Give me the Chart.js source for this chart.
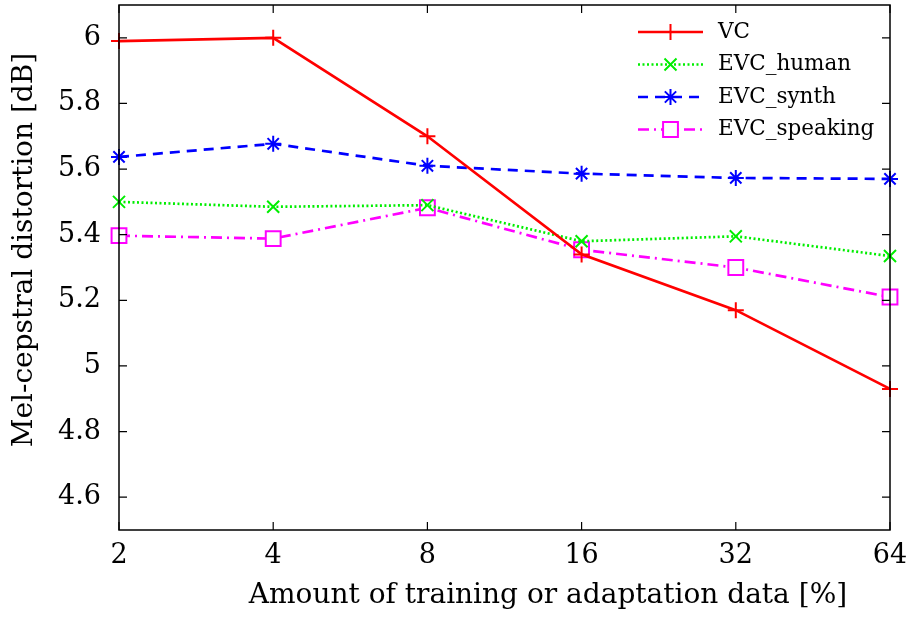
<!DOCTYPE html>
<html>
<head>
<meta charset="utf-8">
<script src="https://cdn.jsdelivr.net/npm/chart.js@4/dist/chart.umd.min.js"></script>
<style>
  html, body { margin: 0; padding: 0; background: #fff; }
  #wrap { width: 910px; height: 622px; }
</style>
</head>
<body>
<div id="wrap"><canvas id="chart" width="910" height="622"></canvas></div>
<script>
const categories = ["2", "4", "8", "16", "32", "64"];
const vc = [5.99, 6.0, 5.70, 5.34, 5.17, 4.93];
const evcHuman = [5.50, 5.485, 5.49, 5.38, 5.395, 5.335];
const evcSynth = [5.637, 5.677, 5.61, 5.586, 5.573, 5.57];
const evcSpeaking = [5.397, 5.388, 5.482, 5.354, 5.30, 5.21];
const yTicks = [4.6, 4.8, 5.0, 5.2, 5.4, 5.6, 5.8, 6.0];

const FONT = "'DejaVu Serif', serif";
const xTitle = "Amount of training or adaptation data [%]";
const yTitle = "Mel-cepstral distortion [dB]";

// frame, inward ticks on all sides, axis titles and the legend inside the plot
const framePlugin = {
  id: "frame",
  afterDraw(chart) {
    const { ctx, chartArea: a, scales } = chart;
    ctx.save();
    ctx.strokeStyle = "#000";
    ctx.lineWidth = 1.5;
    ctx.strokeRect(a.left, a.top, a.right - a.left, a.bottom - a.top);
    ctx.lineWidth = 1.2;
    const len = 8;
    scales.x.ticks.forEach((t, i) => {
      const px = scales.x.getPixelForTick(i);
      ctx.beginPath();
      ctx.moveTo(px, a.bottom); ctx.lineTo(px, a.bottom - len);
      ctx.moveTo(px, a.top); ctx.lineTo(px, a.top + len);
      ctx.stroke();
    });
    scales.y.ticks.forEach((t) => {
      const py = scales.y.getPixelForValue(t.value);
      ctx.beginPath();
      ctx.moveTo(a.left, py); ctx.lineTo(a.left + len, py);
      ctx.moveTo(a.right, py); ctx.lineTo(a.right - len, py);
      ctx.stroke();
    });

    // axis titles
    ctx.fillStyle = "#000";
    ctx.font = "28px " + FONT;
    ctx.textAlign = "center";
    ctx.textBaseline = "alphabetic";
    ctx.fillText(xTitle, 548, 603);
    ctx.save();
    ctx.translate(32, 250);
    ctx.rotate(-Math.PI / 2);
    ctx.fillText(yTitle, 0, 0);
    ctx.restore();

    // legend
    const x0 = 638, x1 = 703, tx = 718;
    let y = 32;
    ctx.font = "21.5px " + FONT;
    ctx.textBaseline = "middle";
    ctx.textAlign = "left";
    chart.data.datasets.forEach((ds) => {
      ctx.save();
      ctx.strokeStyle = ds.borderColor;
      ctx.fillStyle = "#fff";
      ctx.lineWidth = ds.borderWidth;
      ctx.setLineDash(ds.borderDash || []);
      ctx.beginPath();
      ctx.moveTo(x0, y); ctx.lineTo(x1, y);
      ctx.stroke();
      ctx.setLineDash([]);
      ctx.lineWidth = ds.pointBorderWidth;
      Chart.helpers.drawPoint(ctx, {
        pointStyle: ds.pointStyle,
        radius: ds.pointRadius,
        borderWidth: ds.pointBorderWidth
      }, (x0 + x1) / 2, y);
      ctx.restore();
      ctx.fillStyle = "#000";
      ctx.fillText(ds.label, tx, y);
      y += 32.5;
    });
    ctx.restore();
  }
};

function ds(label, data, color, dash, style, radius) {
  return {
    label, data,
    borderColor: color,
    backgroundColor: color,
    borderWidth: 2.7,
    borderDash: dash,
    pointStyle: style,
    pointRadius: radius,
    pointBorderWidth: 2,
    pointBorderColor: color,
    pointBackgroundColor: "#fff",
    pointHoverRadius: radius,
    tension: 0,
    fill: false
  };
}

new Chart(document.getElementById("chart"), {
  type: "line",
  data: {
    labels: categories,
    datasets: [
      ds("VC", vc, "#ff0000", [], "cross", 8),
      ds("EVC_human", evcHuman, "#00ee00", [2, 2.5], "crossRot", 8.5),
      ds("EVC_synth", evcSynth, "#0000ff", [10, 7], "star", 8),
      ds("EVC_speaking", evcSpeaking, "#ff00ff", [11, 5, 2, 5], "rect", 10.5)
    ]
  },
  options: {
    responsive: false,
    animation: false,
    layout: { autoPadding: false, padding: { left: 0, right: 20, top: 5, bottom: 0 } },
    plugins: {
      legend: { display: false },
      tooltip: { enabled: false }
    },
    scales: {
      x: {
        type: "category",
        offset: false,
        grid: { display: false, drawTicks: false },
        border: { display: false },
        ticks: {
          color: "#000",
          font: { family: FONT, size: 27 },
          padding: 10,
          maxRotation: 0,
          autoSkip: false
        },
        afterFit(scale) {
          scale.height = 92;
          scale.paddingLeft = 0;
          scale.paddingRight = 0;
        }
      },
      y: {
        min: 4.5,
        max: 6.1,
        grid: { display: false, drawTicks: false },
        border: { display: false },
        afterBuildTicks(scale) { scale.ticks = yTicks.map(v => ({ value: v })); },
        ticks: {
          color: "#000",
          font: { family: FONT, size: 27 },
          padding: 18,
          callback: (v) => (Math.abs(v - Math.round(v)) < 1e-9 ? String(Math.round(v)) : v.toFixed(1))
        },
        afterFit(scale) {
          scale.width = 119;
          scale.paddingTop = 0;
          scale.paddingBottom = 0;
        }
      }
    }
  },
  plugins: [framePlugin]
});
</script>
</body>
</html>
